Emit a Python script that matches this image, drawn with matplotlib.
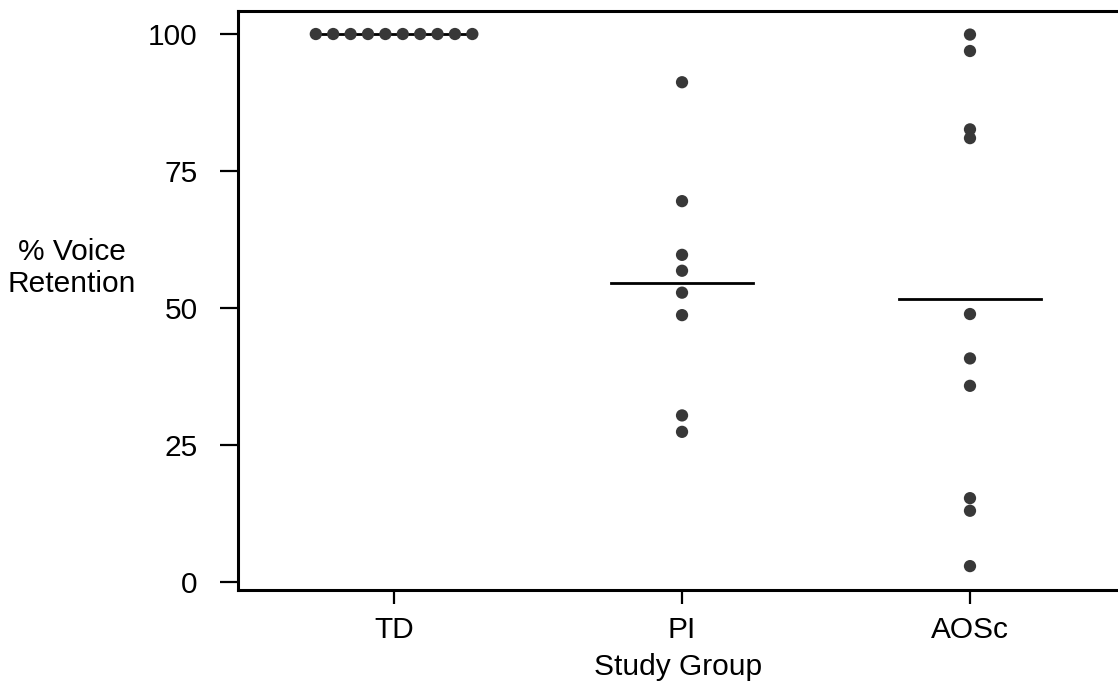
import numpy as np
from matplotlib import pyplot as plt

plt.rcParams['font.family'] = ['Liberation Sans', 'DejaVu Sans']

groups = ['TD', 'PI', 'AOSc']
td = [100, 100, 100, 100, 100, 100, 100, 100, 100, 100]
pi = [91.2, 69.5, 59.7, 56.8, 52.8, 48.7, 30.4, 27.4]
aosc = [99.9, 96.9, 82.6, 81.0, 48.9, 40.8, 35.8, 15.3, 13.0, 2.9]
yticks = [0, 25, 50, 75, 100]


def main():
    fig = plt.figure(figsize=(11.18, 6.94), dpi=100)
    ax = fig.add_axes([238 / 1118, 1 - 590 / 694, 1 - 238 / 1118, (590 - 11) / 694])

    data = [td, pi, aosc]
    for i, vals in enumerate(data):
        xc = i + 1
        vals = np.array(vals)
        # spread tied values sideways like a dot plot
        xs = np.full(len(vals), float(xc))
        uniq, counts = np.unique(vals, return_counts=True)
        for u, c in zip(uniq, counts):
            if c > 1:
                idx = np.where(vals == u)[0]
                xs[idx] = xc + (np.arange(c) - (c - 1) / 2) * 0.0604
        m = vals.mean()
        ax.plot([xc - 0.245, xc + 0.245] if len(uniq) > 1 else [xs.min(), xs.max()],
                [m, m], color='black', lw=2.0, zorder=2)
        ax.scatter(xs, vals, s=78, color='#383838', edgecolors='none', zorder=3)

    ax.set_xlim(0.458, 3.514)
    ax.set_ylim(-1.46, 104.2)
    ax.set_xticks([1, 2, 3])
    ax.set_xticklabels(groups)
    ax.set_yticks(yticks)

    ax.spines['right'].set_visible(False)
    for s in ['left', 'bottom', 'top']:
        ax.spines[s].set_linewidth(2.2)
    ax.tick_params(axis='y', length=13, width=1.6, pad=16, labelsize=21.5)
    ax.tick_params(axis='x', length=10, width=1.6, pad=9, labelsize=21.5)

    ax.set_xlabel('Study Group', fontsize=21.5, labelpad=6)
    fig.text(72 / 1118, 1 - 268 / 694, '% Voice\nRetention', fontsize=21.5,
             ha='center', va='center', linespacing=1.15)

    fig.savefig('out.png', dpi=100)


if __name__ == '__main__':
    main()
